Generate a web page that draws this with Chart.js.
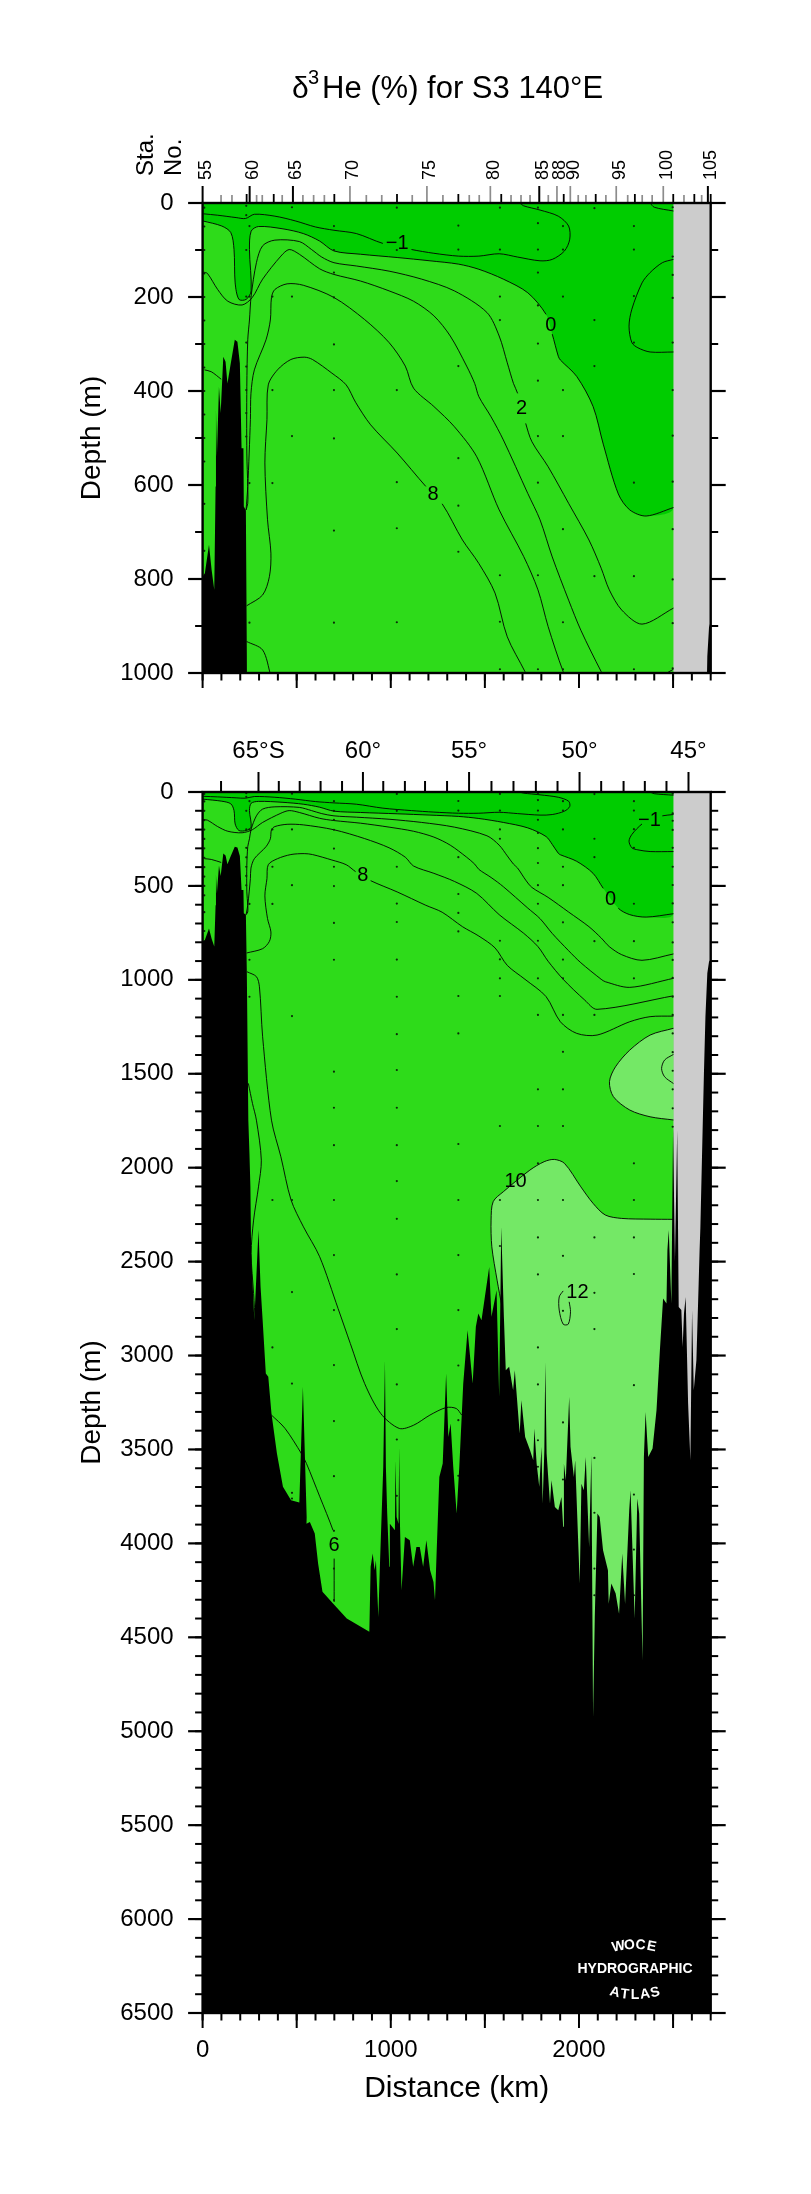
<!DOCTYPE html>
<html>
<head>
<meta charset="utf-8">
<title>S3 140E</title>
<script src="https://cdn.jsdelivr.net/npm/chart.js@4"></script>
<style>
	html, body { margin: 0; padding: 0; background: #ffffff; }
	#wrap { position: relative; width: 811px; height: 2194px; overflow: hidden; }
	canvas { position: absolute; left: 0; }
	#chart-top { top: 0; }
	#chart-bottom { top: 720px; }
</style>
</head>
<body>
<div id="wrap">
	<canvas id="chart-top" width="811" height="720"></canvas>
	<canvas id="chart-bottom" width="811" height="1474"></canvas>
</div>
<script>
// Contours, [distance km, depth m]
const contourM1 = [[4,23],[80,26],[178,31],[228,33],[275,24],[384,28],[492,38],[600,51],[698,58],[817,65],[958,86],[1110,99],[1229,107],[1359,113],[1468,113],[1576,108],[1674,115],[1793,123],[1858,120],[1923,102],[1951,77],[1945,49],[1890,28],[1793,15],[1706,6],[1685,0]];
const contourM1Corner = [[2378,0],[2400,9],[2502,17]];
const contourM1Blob = [[2502,120],[2443,127],[2378,148],[2335,170],[2281,226],[2266,262],[2281,297],[2313,308],[2378,317],[2502,317]];
const contour0 = [[0,38],[102,49],[150,63],[167,99],[173,170],[193,205],[232,205],[258,187],[249,99],[258,60],[297,50],[427,55],[535,65],[622,81],[698,102],[839,109],[1034,116],[1208,123],[1359,130],[1468,141],[1598,162],[1728,191],[1825,237],[1858,279],[1890,326],[1901,334],[1988,369],[2075,433],[2129,513],[2209,619],[2270,653],[2357,666],[2502,648]];
const contour2 = [[231,653],[240,639],[240,603],[235,532],[235,391],[240,291],[249,249],[258,198],[286,127],[319,91],[384,79],[514,82],[579,99],[633,115],[698,127],[817,134],[991,145],[1164,162],[1338,187],[1511,233],[1576,283],[1619,340],[1652,384],[1674,405],[1717,469],[1750,508],[1836,561],[1945,639],[2053,717],[2118,777],[2161,823],[2227,866],[2335,896],[2502,862]];
const contour4 = [[4,147],[26,150],[80,184],[134,209],[210,217],[264,201],[319,162],[416,113],[460,99],[514,109],[622,140],[698,152],[839,166],[991,187],[1121,209],[1229,240],[1316,283],[1403,347],[1446,384],[1468,412],[1533,455],[1598,504],[1728,618],[1793,674],[1858,753],[1945,845],[2010,909],[2118,997],[2140,1010],[2270,1040],[2502,992]];
const contour6 = [[231,653],[240,603],[254,461],[257,405],[275,355],[337,291],[360,249],[366,201],[384,184],[449,172],[535,175],[698,201],[861,248],[991,297],[1077,347],[1121,394],[1229,433],[1338,476],[1457,540],[1576,653],[1706,752],[1782,823],[1836,901],[1916,997],[2031,1108],[2096,1157],[2502,1085]];
const contour8 = [[234,857],[319,834],[355,795],[363,745],[345,674],[331,553],[342,461],[349,387],[398,355],[469,333],[540,328],[584,333],[687,362],[763,387],[813,424],[893,472],[1034,532],[1186,603],[1273,640],[1381,717],[1468,767],[1554,830],[1619,923],[1713,997],[1825,1089],[1901,1223],[1988,1285],[2096,1294],[2270,1223],[2378,1196],[2502,1193]];
const contourLeft = [[10,355],[46,359],[99,375]];
const contourShelfTop = [[234,933],[319,951],[362,1005]];
const contourShelf = [[236,957],[286,983],[302,1037],[319,1303],[366,1747],[416,1942],[470,2172],[536,2315],[622,2474],[720,2750],[785,2936],[861,3149],[947,3309],[1045,3388],[1121,3371],[1208,3317],[1294,3277],[1348,3282],[1377,3317]];
const contourSlope = [[243,1551],[265,1658],[286,1747],[312,1960],[297,2102],[271,2279],[258,2457],[271,2670],[280,2820]];
const contourBasin = [[366,3317],[438,3388],[525,3522],[552,3575],[623,3752],[693,3930],[699,3966],[699,4081],[699,4312]];
const contour10 = [[2502,2275],[2378,2274],[2227,2270],[2140,2252],[2075,2190],[2010,2102],[1923,1977],[1869,1956],[1815,1968],[1739,2013],[1598,2128],[1544,2181],[1533,2279],[1537,2421],[1565,2599],[1591,2741]];
const contour10Blob = [[2502,1258],[2378,1294],[2270,1374],[2194,1463],[2162,1542],[2183,1622],[2270,1693],[2378,1729],[2502,1746]];
const contour12Blob = [[2502,1397],[2455,1427],[2439,1472],[2455,1516],[2502,1552]];
const contour12 = [[1916,2656],[1895,2688],[1895,2758],[1916,2833],[1943,2833],[1955,2767],[1948,2714]];

// Sea floor
const bottomKm = [0,12,34,48,62,69,71,76,87,96,110,122,132,148,171,185,198,207,217,219,230,235,243,249,254,258,275,297,308,319,336,349,366,395,427,470,514,533,553,552,570,596,614,637,693,766,886,893,904,914,921,934,942,960,969,974,981,992,995,1022,1025,1031,1041,1045,1048,1057,1075,1101,1119,1136,1154,1172,1189,1209,1227,1235,1244,1258,1276,1294,1306,1318,1332,1350,1364,1385,1408,1435,1452,1465,1482,1523,1535,1562,1576,1587,1601,1611,1629,1650,1659,1685,1694,1714,1740,1757,1763,1775,1789,1801,1807,1816,1821,1828,1846,1854,1872,1890,1907,1916,1920,1930,1948,1955,1973,1980,2004,2013,2026,2036,2054,2066,2075,2084,2098,2110,2128,2154,2158,2172,2195,2213,2230,2245,2267,2274,2296,2310,2320,2338,2345,2354,2368,2391,2412,2430,2447,2465,2470,2477,2491,2500,2510,2522,2530,2544,2551,2558,2567,2580,2592,2601,2610,2624,2636,2641,2645,2659,2664,2672,2682,2691,2700,2700,0];
const bottomDepth = [795,788,727,781,823,603,440,540,391,447,327,338,384,345,291,295,341,522,522,646,654,958,1747,1924,2102,2457,2811,2332,2634,2811,3095,3113,3309,3522,3699,3770,3782,3166,3859,3895,3886,3948,4108,4258,4320,4400,4471,4125,4054,4143,4090,4392,4125,3593,3025,3593,3841,4125,3895,3930,3557,3859,3895,3486,3859,4250,3966,3983,4125,4019,4019,4125,3983,4143,4205,4303,4037,3646,3575,3096,3433,3362,3593,3841,3593,3149,2865,3149,2847,2776,2812,2528,2794,2652,3220,2314,2794,3078,3060,3185,3078,3415,3238,3433,3504,3557,3389,3575,3699,3486,3788,3504,3034,3522,3788,3664,3806,3824,3753,3912,3575,3664,3220,3486,3646,3557,4214,3682,3717,3540,4019,3531,4924,4392,3841,3859,4037,4143,4321,4214,4267,4374,4054,4321,3824,3717,4400,3761,3841,4622,3540,3300,3540,3495,3291,2972,2696,2723,2439,2332,2723,1783,2500,1800,2741,2758,2954,2776,2688,3255,3557,2758,3185,3025,2617,2439,2322,1711,1498,1196,965,903,890,6500,6500];
const noDataKm = [2502, 2700];

// Bottle samples: one depth list per station with data
const sampleKm = [9,232,249,371,475,698,1032,1359,1580,1782,1915,2082,2292,2498];
const sampleDepths = [
	[10,50,100,150,200,250,300,350,400,450,500,550,640,740],
	[6,26,100,199,297,348,398,447,497,1950],
	[49,199,596,893,1090],
	[199,398,596,2172,2957],
	[9,199,496,1193,2172,2662,3149,3731,3761],
	[49,100,148,201,301,398,501,697,893,1489,1681,1880,2172,2465,2758,3051,3349,3642,3933,4134,4302],
	[10,100,398,594,692,892,1090,1289,1480,1681,1880,2071,2272,2568,2859,3154,3447,3747],
	[48,99,347,543,644,742,1086,1285,1874,2172,2465,2758,3053,3344,3640],
	[10,99,199,249,792,891,992,1086,1778,2172,2417],
	[10,43,99,148,218,299,378,496,595,792,992,1187,1583,1778,1977,2172,2371,2568,2957,3154,3451,3592],
	[49,99,199,398,496,694,892,992,1187,1383,1583,1778,2172,2469,2762,3356,3660],
	[11,249,347,794,1187,2371,2666,2859,3545,3837,4134,4276],
	[49,99,198,297,595,794,992,1977,2172,2371,2566,3158,3740,4033,4276],
	[9,114,153,202,297,398,495,593,694,801,894,990,1090,1187,1285,1385,1484,1583,1684,1782]
];

// Top axis of the upper panel: stations
const stationKm = [0,250,480,783,1192,1529,1789,1883,1954,2198,2448,2685];
const stationLabels = ['55','60','65','70','75','80','85','88','90','95','100','105'];
const stationLongBlack = [0,250,480,1789,2685];
const stationShortGrey = [98,156,287,317,423,533,590,647,870,952,1114,1277,1417,1470,1639,1692,1740,1837,1996,2037,2143,2259,2336,2389,2558,2652];
const stationShortBlack = [234,378,700,1033,1359,1587,1919,2089,2297,2501,2613,2700];

// Top axis of the lower panel: latitude
const latKm = [297,852,1416,2003,2582];
const latLabels = ['65°S','60°','55°','50°','45°'];
const latMinorKm = [98,405,516,627,741,960,1075,1182,1299,1535,1652,1771,1886,2118,2237,2350,2465];

// Bottom axis
const distanceTicks = [0,1000,2000];

// Contour labels
const labelsTop = [['−1',1034,87],['0',1851,260],['2',1695,437],['8',1225,621]];
const labelsBottom = [['−1',2374,149],['0',2168,570],['8',852,446],['10',1663,2075],['12',1992,2666],['6',698,4013]];

const COLOR_LOW = '#00cc00';
const COLOR_MID = '#2edb1a';
const COLOR_HIGH = '#74e866';
const COLOR_GREY = '#cccccc';
const FONT = '"Liberation Sans", Arial, sans-serif';

const PLOT_LEFT = 202.6;
const PLOT_RIGHT = 710.7;

function pts(list)
{
	return list.map(function(p) { return {x: p[0], y: p[1]}; });
}

function polygon(list, color, order, tension)
{
	return {
		data: pts(list),
		showLine: true,
		fill: 'shape',
		backgroundColor: color,
		borderWidth: 0,
		borderColor: color,
		pointRadius: 0,
		tension: tension,
		order: order
	};
}

function contourLine(list, labels)
{
	return {
		data: pts(list),
		showLine: true,
		fill: false,
		borderColor: '#000000',
		borderWidth: 0.9,
		pointRadius: 0,
		tension: 0.3,
		order: 5,
		segment: {
			// break the line under its label
			borderColor: function(ctx)
			{
				var chart = ctx.chart;
				var hidden = labels.some(function(l) {
					var lx = chart.scales.x.getPixelForValue(l[1]);
					var ly = chart.scales.y.getPixelForValue(l[2]);
					return Math.hypot(ctx.p0.x - lx, ctx.p0.y - ly) < 16 && Math.hypot(ctx.p1.x - lx, ctx.p1.y - ly) < 16;
				});
				return hidden ? 'transparent' : undefined;
			}
		}
	};
}

function sampleData()
{
	var out = [];
	sampleKm.forEach(function(km, i) {
		sampleDepths[i].forEach(function(d) { out.push({x: km, y: d}); });
	});
	return out;
}

function baseDatasets(labels, lines)
{
	var dark = [[0,0],[2502,0]].concat(contour0.slice().reverse());
	var light = contour10.concat([[1591,6500],[2502,6500]]);
	var grey = [[noDataKm[0],0],[noDataKm[1],0],[noDataKm[1],6500],[noDataKm[0],6500]];
	var bottom = bottomKm.map(function(km, i) { return [km, bottomDepth[i]]; });

	var sets = [
		polygon(dark, COLOR_LOW, 9, 0.3),
		polygon(contour10Blob, COLOR_HIGH, 8, 0.3),
		polygon(light, COLOR_HIGH, 8, 0.3),
		polygon(grey, COLOR_GREY, 7, 0),
		{
			data: sampleData(),
			showLine: false,
			pointRadius: 1.1,
			pointBorderWidth: 0,
			pointBackgroundColor: '#0a2a08',
			order: 4
		},
		polygon(bottom, '#000000', 2, 0)
	];
	lines.forEach(function(l) { sets.push(contourLine(l, labels)); });
	return sets;
}

function drawTicks(ctx, scale, values, len, color, width)
{
	ctx.strokeStyle = color;
	ctx.lineWidth = width;
	values.forEach(function(v) {
		var p = scale.getPixelForValue(v);
		ctx.beginPath();
		if (scale.position === 'left') { ctx.moveTo(scale.right, p); ctx.lineTo(scale.right - len, p); }
		if (scale.position === 'right') { ctx.moveTo(scale.left, p); ctx.lineTo(scale.left + len, p); }
		if (scale.position === 'top') { ctx.moveTo(p, scale.bottom); ctx.lineTo(p, scale.bottom - len); }
		if (scale.position === 'bottom') { ctx.moveTo(p, scale.top); ctx.lineTo(p, scale.top + len); }
		ctx.stroke();
	});
}

function everyStep(max, step)
{
	var out = [];
	for (var v = 0; v <= max; v += step) out.push(v);
	return out;
}

// Background, frame, tick marks, contour labels
function panelPlugin(cfg)
{
	return {
		id: 'panel',
		beforeDatasetsDraw: function(chart)
		{
			var a = chart.chartArea;
			chart.ctx.fillStyle = COLOR_MID;
			chart.ctx.fillRect(a.left, a.top, a.right - a.left, a.bottom - a.top);
		},
		afterDatasetsDraw: function(chart)
		{
			var ctx = chart.ctx;
			var a = chart.chartArea;
			var s = chart.scales;
			ctx.save();
			ctx.font = '20px ' + FONT;
			ctx.fillStyle = '#000000';
			ctx.textAlign = 'center';
			ctx.textBaseline = 'middle';
			cfg.labels.forEach(function(l) {
				ctx.fillText(l[0], s.x.getPixelForValue(l[1]), s.y.getPixelForValue(l[2]));
			});

			drawTicks(ctx, s.y, everyStep(cfg.yMax, 100), 7.5, '#000000', 2);
			drawTicks(ctx, s.yRight, everyStep(cfg.yMax, 100), 7.5, '#000000', 2);
			drawTicks(ctx, s.y, everyStep(cfg.yMax, cfg.yStep), 14.5, '#000000', 2.2);
			drawTicks(ctx, s.yRight, everyStep(cfg.yMax, cfg.yStep), 15, '#000000', 2.2);
			drawTicks(ctx, s.x, everyStep(2700, 100), 7.5, '#000000', 2);
			drawTicks(ctx, s.x, everyStep(2700, 500), 15, '#000000', 2);

			cfg.topMarks(ctx, s.xTop);

			ctx.strokeStyle = '#000000';
			ctx.lineWidth = 2.4;
			ctx.strokeRect(a.left, a.top, a.right - a.left, a.bottom - a.top);
			ctx.restore();
			if (cfg.extra) cfg.extra(ctx);
		}
	};
}

function drawTitle(ctx)
{
	ctx.save();
	ctx.fillStyle = '#000000';
	ctx.textBaseline = 'alphabetic';
	ctx.textAlign = 'left';
	ctx.font = '30px ' + FONT;
	ctx.fillText('δ', 292, 98);
	ctx.font = '20px ' + FONT;
	ctx.fillText('3', 308, 84);
	ctx.font = '31px ' + FONT;
	ctx.fillText('He (%) for S3 140°E', 322, 98);

	// Sta. / No. beside the station numbers
	ctx.font = '24px ' + FONT;
	ctx.translate(153, 176);
	ctx.rotate(-Math.PI / 2);
	ctx.fillText('Sta.', 0, 0);
	ctx.fillText('No.', 0, 28);
	ctx.restore();
}

function arcText(ctx, text, cx, cy, step, radius, dir)
{
	var mid = (text.length - 1) / 2;
	for (var i = 0; i < text.length; i++) {
		var t = (i - mid) * step;
		ctx.save();
		ctx.translate(cx + radius * Math.sin(t), cy + dir * radius * (1 - Math.cos(t)));
		ctx.rotate(dir * t);
		ctx.fillText(text[i], 0, 0);
		ctx.restore();
	}
}

function drawLogo(ctx)
{
	ctx.save();
	ctx.fillStyle = '#ffffff';
	ctx.textAlign = 'center';
	ctx.textBaseline = 'middle';
	ctx.font = 'bold 14px ' + FONT;
	arcText(ctx, 'WOCE', 635, 1225, 0.13, 85, 1);
	ctx.fillText('HYDROGRAPHIC', 635, 1249);
	arcText(ctx, 'ATLAS', 635, 1275, 0.12, 85, -1);
	ctx.restore();
}

function panelScales(cfg)
{
	var tickFont = {family: FONT, size: 24};
	var hidden = {display: false};
	return {
		x: {
			type: 'linear', position: 'bottom', min: 0, max: 2700,
			grid: {display: false}, border: {display: false},
			afterBuildTicks: function(s) {
				s.ticks = distanceTicks.map(function(v) { return {value: v}; });
			},
			ticks: {
				display: cfg.xLabels,
				autoSkip: false,
				font: tickFont,
				color: '#000000',
				padding: 15,
				maxRotation: 0,
				callback: function(value) { return String(value); }
			},
			title: cfg.xLabels
				? {display: true, text: 'Distance (km)', font: {family: FONT, size: 30}, color: '#000000', padding: {top: 0, bottom: 87}}
				: hidden,
			afterFit: function(s) { s.height = cfg.bottomH; }
		},
		xTop: {
			type: 'linear', position: 'top', min: 0, max: 2700,
			grid: {display: false}, border: {display: false},
			afterBuildTicks: function(s) {
				s.ticks = cfg.topKm.map(function(v) { return {value: v}; });
			},
			ticks: {
				autoSkip: false,
				font: {family: FONT, size: cfg.topFont},
				color: '#000000',
				padding: cfg.topPad,
				labelOffset: cfg.topShift,
				minRotation: cfg.topRot,
				maxRotation: cfg.topRot,
				callback: function(value, i) { return cfg.topLabels[i]; }
			},
			afterFit: function(s) { s.height = cfg.topH; }
		},
		y: {
			type: 'linear', position: 'left', min: 0, max: cfg.yMax, reverse: true,
			grid: {display: false}, border: {display: false},
			ticks: {
				stepSize: cfg.yStep,
				font: tickFont,
				color: '#000000',
				padding: 21,
				callback: function(value) { return String(value); }
			},
			title: {display: true, text: 'Depth (m)', font: {family: FONT, size: 28}, color: '#000000', padding: 0},
			afterFit: function(s) { s.width = PLOT_LEFT - 75; }
		},
		yRight: {
			type: 'linear', position: 'right', min: 0, max: cfg.yMax, reverse: true,
			grid: {display: false}, border: {display: false},
			ticks: {display: false},
			afterFit: function(s) { s.width = 811 - PLOT_RIGHT; }
		}
	};
}

function makePanel(id, cfg, lines)
{
	Chart.defaults.font.family = FONT;
	new Chart(document.getElementById(id), {
		type: 'scatter',
		data: {datasets: baseDatasets(cfg.labels, lines)},
		options: {
			responsive: false,
			animation: false,
			devicePixelRatio: 1,
			layout: {padding: {left: 75, right: 0, top: 0, bottom: 0}},
			plugins: {legend: {display: false}, tooltip: {enabled: false}},
			scales: panelScales(cfg)
		},
		plugins: [panelPlugin(cfg)]
	});
}

var sharedLines = [contourM1, contourM1Corner, contourM1Blob, contour0, contour2, contour4, contour6, contour8, contourLeft];

makePanel('chart-top', {
	labels: labelsTop,
	yMax: 1000,
	yStep: 200,
	xLabels: false,
	bottomH: 47,
	topH: 203,
	topKm: stationKm,
	topLabels: stationLabels,
	topFont: 18,
	topPad: 15,
	topShift: 25,
	topRot: 90,
	topMarks: function(ctx, scale)
	{
		drawTicks(ctx, scale, stationShortGrey, 8, '#8c8c8c', 1.7);
		drawTicks(ctx, scale, stationKm.filter(function(k) { return stationLongBlack.indexOf(k) < 0; }), 17, '#8c8c8c', 1.7);
		drawTicks(ctx, scale, stationShortBlack, 9, '#000000', 1.8);
		drawTicks(ctx, scale, stationLongBlack, 17, '#000000', 2);
	},
	extra: drawTitle
}, sharedLines.concat([contourShelfTop]));

makePanel('chart-bottom', {
	labels: labelsBottom,
	yMax: 6500,
	yStep: 500,
	xLabels: true,
	bottomH: 181,
	topH: 72,
	topKm: latKm,
	topLabels: latLabels,
	topFont: 24,
	topPad: 18,
	topShift: 0,
	topRot: 0,
	topMarks: function(ctx, scale)
	{
		drawTicks(ctx, scale, latMinorKm, 11, '#000000', 2);
		drawTicks(ctx, scale, latKm, 20, '#000000', 2);
	},
	extra: drawLogo
}, sharedLines.concat([contourShelf, contourSlope, contourBasin, contour10, contour10Blob, contour12Blob, contour12]));
</script>
</body>
</html>
